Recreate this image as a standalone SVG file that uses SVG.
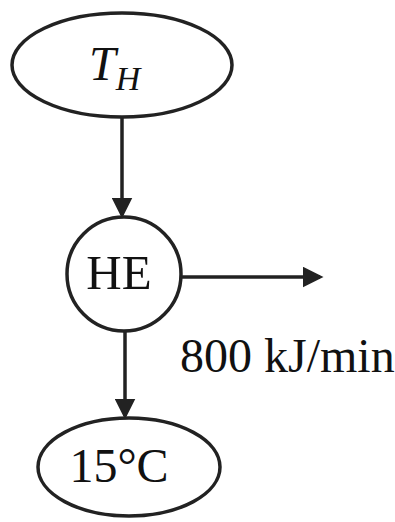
<svg xmlns="http://www.w3.org/2000/svg" width="395" height="522" viewBox="0 0 395 522">
<style>
.shape{fill:none;stroke:#222;stroke-width:3.5}
.line{stroke:#222;stroke-width:3.5;fill:none}
.t{font-family:"Liberation Serif",serif;fill:#111}
</style>
<defs>
<marker id="ah" markerWidth="6" markerHeight="6" refX="5" refY="3" orient="auto" markerUnits="strokeWidth">
<path d="M0,0 L6,3 L0,6 z" fill="#222"/>
</marker>
</defs>
<rect width="395" height="522" fill="#fff"/>
<g id="TH">
<ellipse class="shape" cx="122" cy="65" rx="110" ry="52"/>
<text class="t" x="89" y="80" font-size="48" font-style="italic">T<tspan font-size="34" dy="10">H</tspan></text>
</g>
<g id="HE">
<circle class="shape" cx="124" cy="274" r="57"/>
<text class="t" x="119" y="289" font-size="49" text-anchor="middle">HE</text>
</g>
<g id="T15">
<ellipse class="shape" cx="129" cy="467" rx="91" ry="49"/>
<text class="t" x="119" y="482" font-size="48" text-anchor="middle">15°C</text>
</g>
<g id="connectors">
<line class="line" x1="122" y1="118" x2="122" y2="215" marker-end="url(#ah)"/>
<line class="line" x1="181" y1="277" x2="320" y2="277" marker-end="url(#ah)"/>
<line class="line" x1="125" y1="331" x2="125" y2="416" marker-end="url(#ah)"/>
</g>
<text class="t" x="180" y="372" font-size="48">800 kJ/min</text>
</svg>
